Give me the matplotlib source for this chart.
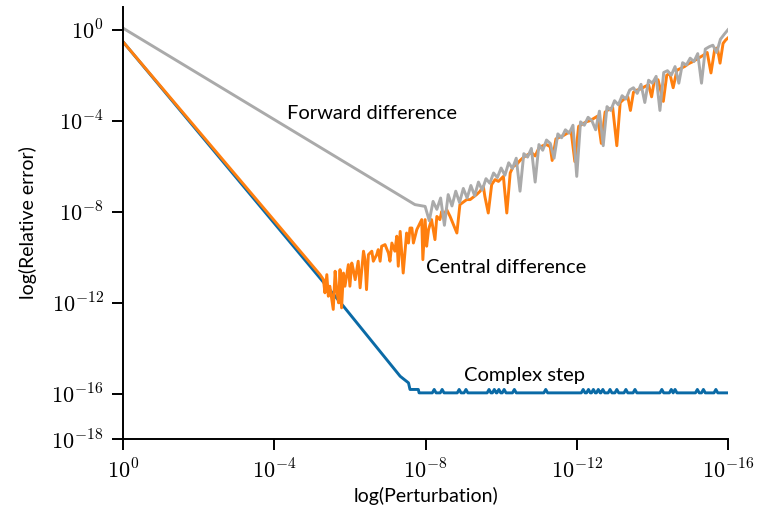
import numpy as np
import matplotlib.pyplot as plt

plt.rcParams['font.family'] = ['Lato', 'DejaVu Sans']
plt.rcParams['mathtext.fontset'] = 'cm'

# All values are log10 of perturbation h and of the relative error.

# Forward difference: straight O(h) part, then round-off noise
fwd_smooth_h = [0.00, -7.72, -7.99]
fwd_smooth_err = [0.07, -7.69, -7.77]
fwd_noise_h = np.round(np.linspace(-8.1, -16.0, 80), 2)
fwd_noise_err = [
    -8.40, -7.55, -7.90, -7.40, -8.60, -7.25, -7.75, -7.10, -7.60, -6.98,
    -7.40, -6.85, -7.30, -6.70, -7.05, -6.55, -6.75, -6.30, -6.50, -6.08,
    -6.40, -5.85, -6.10, -5.65, -7.10, -5.45, -5.60, -5.22, -6.70, -5.05,
    -5.30, -4.85, -5.00, -5.65, -4.58, -4.75, -4.40, -4.55, -4.20, -6.45,
    -4.05, -4.20, -3.85, -4.00, -4.40, -3.58, -5.10, -3.38, -3.55, -3.12,
    -3.30, -2.90, -3.05, -2.65, -2.55, -2.80, -2.40, -3.20, -2.22, -2.35,
    -2.05, -3.55, -1.88, -1.80, -2.00, -1.62, -2.35, -1.45, -1.55, -1.25,
    -1.40, -1.05, -2.35, -0.85, -0.75, -0.68, -1.00, -0.42, -0.20, 0.00,
]

# Central difference: O(h^2) part, then round-off noise
cen_h = [
    0.00, -5.21, -5.30, -5.34, -5.39, -5.43, -5.47, -5.56, -5.61, -5.65,
    -5.70, -5.74, -5.78, -5.83, -5.87, -5.96, -6.00, -6.05, -6.09, -6.14,
    -6.22, -6.27, -6.36, -6.40, -6.44, -6.49, -6.58, -6.62, -6.71, -6.75,
    -6.80, -6.84, -6.93, -7.02, -7.06, -7.11, -7.19, -7.24, -7.28, -7.33,
    -7.41, -7.50, -7.55, -7.59, -7.64, -7.68, -7.77, -7.90, -7.93, -7.99,
    -8.03, -8.08, -8.16, -8.25, -8.30, -8.38, -8.43, -8.47, -8.56, -8.65,
    -8.83, -8.91, -9.09, -9.18, -9.35, -9.44, -9.53, -9.57, -9.66, -9.75,
    -9.84, -9.93, -10.06, -10.15, -10.24, -10.32, -10.41, -10.50, -10.60, -10.70,
    -10.80, -10.90, -11.00, -11.10, -11.20, -11.30, -11.35, -11.45, -11.55, -11.65,
    -11.75, -11.85, -11.95, -12.05, -12.15, -12.25, -12.35, -12.45, -12.55, -12.65,
    -12.75, -12.85, -12.95, -13.06, -13.15, -13.25, -13.35, -13.42, -13.50, -13.60,
    -13.70, -13.80, -13.90, -13.98, -14.05, -14.15, -14.29, -14.38, -14.46, -14.55,
    -14.65, -14.75, -14.85, -14.95, -15.05, -15.15, -15.25, -15.35, -15.45, -15.55,
    -15.65, -15.72, -15.79, -15.87, -15.94, -16.00,
]
cen_err = [
    -0.53, -10.77, -10.99, -11.57, -10.77, -11.72, -11.28, -12.30, -10.62, -11.43,
    -12.01, -10.55, -12.23, -10.70, -11.28, -10.33, -11.28, -10.26, -10.55, -10.99,
    -10.18, -11.35, -9.74, -10.11, -11.43, -9.89, -9.74, -10.18, -9.89, -9.67,
    -10.18, -9.52, -9.45, -9.82, -10.18, -9.38, -9.74, -9.08, -10.40, -8.87,
    -10.70, -8.94, -9.38, -8.72, -8.72, -9.38, -8.79, -8.35, -10.11, -8.35,
    -9.52, -8.79, -8.35, -9.23, -8.21, -8.35, -7.99, -8.21, -7.91, -8.21,
    -8.94, -7.69, -7.47, -7.47, -7.25, -7.11, -6.89, -7.33, -8.06, -6.81,
    -6.59, -6.67, -6.45, -8.06, -6.30, -6.01, -5.93, -5.75, -5.60, -5.50,
    -5.40, -5.55, -5.20, -5.10, -5.05, -5.15, -5.75, -4.80, -4.72, -4.65,
    -4.55, -4.45, -5.80, -4.25, -4.15, -4.05, -4.00, -3.90, -3.80, -5.00,
    -3.62, -3.50, -3.42, -5.10, -3.20, -3.05, -2.95, -3.55, -2.75, -2.65,
    -2.60, -2.50, -2.42, -2.95, -2.25, -2.20, -3.15, -2.00, -1.92, -2.55,
    -1.78, -1.70, -1.62, -1.50, -1.42, -1.32, -1.22, -1.12, -1.00, -1.90,
    -0.85, -0.80, -1.47, -0.60, -0.45, -0.36,
]

# Complex step: O(h^2) part down to machine precision, then a flat floor
cs_slope_h = [0.00, -5.83, -7.33, -7.55, -7.59, -7.81, -7.83]
cs_slope_err = [-0.53, -12.16, -15.24, -15.53, -15.82, -15.82, -15.97]
cs_floor_err = -15.97
cs_bump_err = -15.82
cs_bump_h = [
    -8.23, -8.44, -8.89, -9.07, -9.68, -9.82, -9.94, -10.08, -10.35, -11.18,
    -12.17, -12.31, -12.44, -12.57, -12.69, -12.88, -13.06, -13.30, -13.54,
    -14.25, -14.50, -14.60, -15.19, -15.35, -15.68,
]

c_fwd = '#aaaaaa'
c_cen = '#ff7f0e'
c_cs = '#0a6aa6'

# build the complex-step floor with small spikes at the bumps
floor_pts = [(-7.83, cs_floor_err), (-16.0, cs_floor_err)]
for b in cs_bump_h:
    floor_pts += [(b + 0.05, cs_floor_err), (b, cs_bump_err), (b - 0.05, cs_floor_err)]
floor_pts.sort(key=lambda p: -p[0])
cs_h = cs_slope_h + [p[0] for p in floor_pts]
cs_err = cs_slope_err + [p[1] for p in floor_pts]

fwd_h = fwd_smooth_h + list(fwd_noise_h)
fwd_err = fwd_smooth_err + fwd_noise_err

fig, ax = plt.subplots(figsize=(7.58, 5.19), dpi=100)
fig.subplots_adjust(left=0.1623, right=0.9604, bottom=0.1541, top=0.9865)

lw = 2.1
ax.plot(10.0 ** np.array(cs_h), 10.0 ** np.array(cs_err), color=c_cs, lw=lw)
ax.plot(10.0 ** np.array(cen_h), 10.0 ** np.array(cen_err), color=c_cen, lw=lw)
ax.plot(10.0 ** np.array(fwd_h), 10.0 ** np.array(fwd_err), color=c_fwd, lw=lw)

ax.set_xscale('log')
ax.set_yscale('log')
ax.set_xlim(1.0, 1e-16)
ax.set_ylim(1e-18, 1e1)

xt = [1e0, 1e-4, 1e-8, 1e-12, 1e-16]
ax.set_xticks(xt, [r'$10^{0}$', r'$10^{-4}$', r'$10^{-8}$', r'$10^{-12}$', r'$10^{-16}$'])
yt = [1e0, 1e-4, 1e-8, 1e-12, 1e-16, 1e-18]
ax.set_yticks(yt, [r'$10^{0}$', r'$10^{-4}$', r'$10^{-8}$', r'$10^{-12}$', r'$10^{-16}$', r'$10^{-18}$'])
ax.minorticks_off()
ax.tick_params(direction='out', length=8, width=1.4, labelsize=16, pad=6)

for side in ['top', 'right']:
    ax.spines[side].set_visible(False)
for side in ['left', 'bottom']:
    ax.spines[side].set_linewidth(1.4)

ax.set_xlabel('log(Perturbation)', fontsize=14, labelpad=3)
ax.set_ylabel('log(Relative error)', fontsize=14, labelpad=10)

ax.text(10 ** -4.34, 10 ** -3.69, 'Forward difference', fontsize=14.5, ha='left', va='center')
ax.text(10 ** -8.01, 10 ** -10.46, 'Central difference', fontsize=14.5, ha='left', va='center')
ax.text(10 ** -9.02, 10 ** -15.21, 'Complex step', fontsize=14.5, ha='left', va='center')

plt.savefig('out.png', dpi=100)
